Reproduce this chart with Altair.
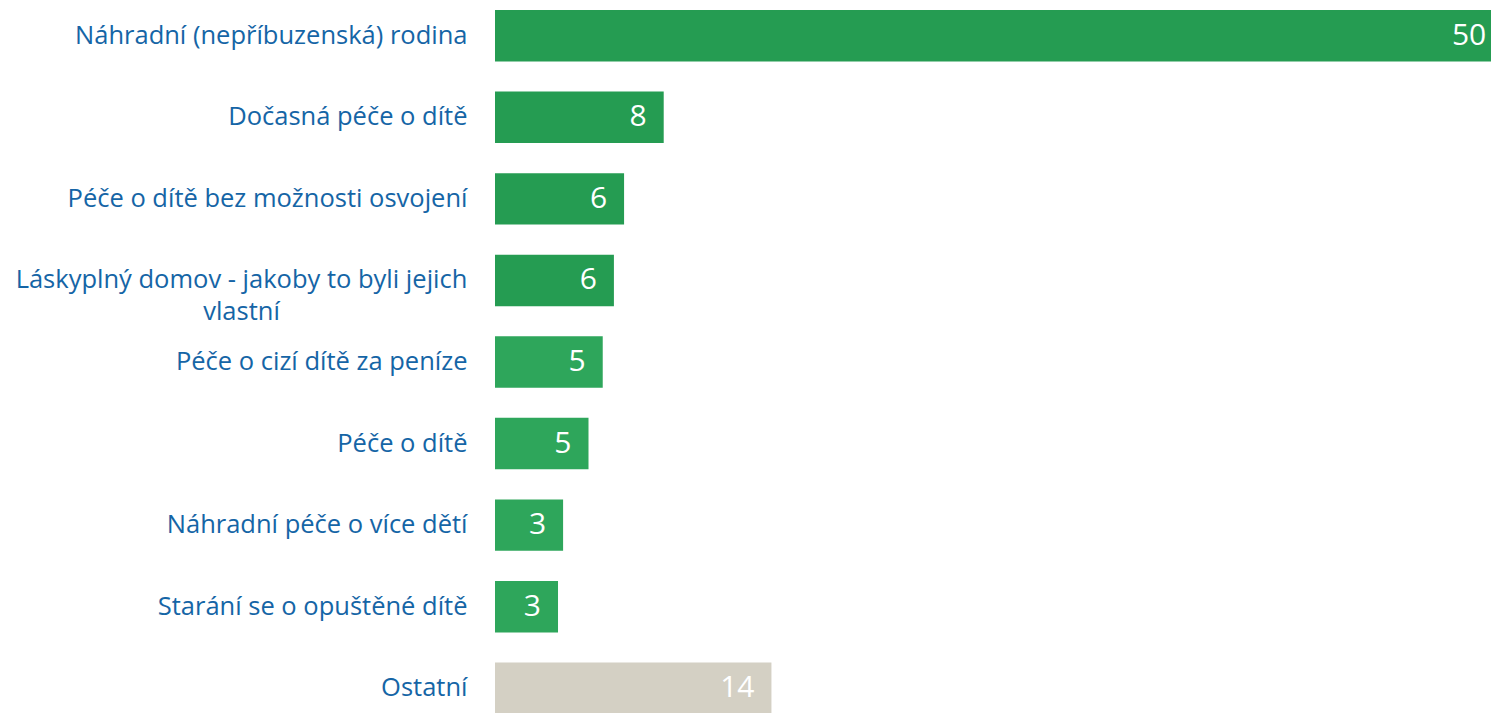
import altair as alt
import pandas as pd

categories = [
    "Náhradní (nepříbuzenská) rodina",
    "Dočasná péče o dítě",
    "Péče o dítě bez možnosti osvojení",
    "Láskyplný domov - jakoby to byli jejich|vlastní",
    "Péče o cizí dítě za peníze",
    "Péče o dítě",
    "Náhradní péče o více dětí",
    "Starání se o opuštěné dítě",
    "Ostatní",
]
values = [50, 8.3, 6.35, 5.85, 5.3, 4.6, 3.35, 3.1, 13.6]
value_labels = ["50", "8", "6", "6", "5", "5", "3", "3", "14"]
colors = ["#259c52", "#259c52", "#259c52", "#259c52",
          "#2ea65b", "#2ea65b", "#2ea65b", "#2ea65b", "#d4d0c4"]

df = pd.DataFrame({"cat": categories, "value": values,
                   "label": value_labels, "color": colors})

FONT = "Open Sans"
WRAPPED = "indexof(datum.value, '|') >= 0"

y = alt.Y("cat:N", sort=None, title=None,
          scale=alt.Scale(paddingInner=0.369, paddingOuter=0.0245),
          axis=alt.Axis(labelExpr="split(datum.label, '|')", labelFont=FONT,
                        labelFontSize=25.5, labelColor="#1565a6",
                        labelAlign=alt.condition(WRAPPED, alt.value("center"), alt.value("right")),
                        labelPadding=alt.condition(WRAPPED, alt.value(254), alt.value(28)),
                        labelLimit=1000, labelLineHeight=32, ticks=False,
                        domain=False, minExtent=487, maxExtent=487))
x = alt.X("value:Q", title=None,
          scale=alt.Scale(domain=[0, 49.0], nice=False, zero=True),
          axis=None)

bars = alt.Chart(df).mark_bar(clip=True).encode(
    y=y, x=x, color=alt.Color("color:N", scale=None))

# keep the label of the bar running off the page inside the visible area
texts = alt.Chart(df).transform_calculate(
    label_x="min(datum.value, 49.6)"
).mark_text(align="right", baseline="middle", dx=-17,
            color="white", font=FONT, fontSize=30).encode(
    y=alt.Y("cat:N", sort=None), x=alt.X("label_x:Q"), text="label:N")

chart = (bars + texts).properties(
    width=996, height=708,
    padding={"left": 0, "top": 0, "right": 0, "bottom": 0},
).configure_view(stroke=None).configure_axis(grid=False)

chart.save("out.html", embed_options={"renderer": "svg", "actions": False})
